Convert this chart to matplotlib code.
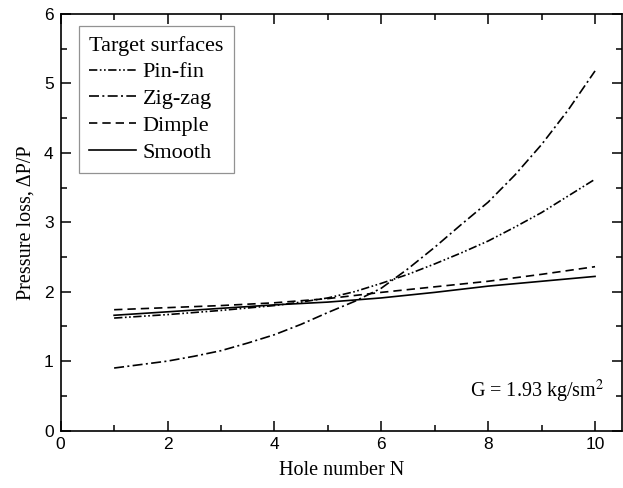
import matplotlib.pyplot as plt
from matplotlib.ticker import MultipleLocator

# hole number
n = [1, 2, 3, 4, 5, 6, 7, 8, 9, 10]
n_half = [1, 1.5, 2, 2.5, 3, 3.5, 4, 4.5, 5, 5.5, 6, 6.5, 7, 7.5, 8, 8.5, 9, 9.5, 10]

# pressure loss dP/P for each target surface (curved ones read at half steps)
pin_fin = [1.62, 1.645, 1.67, 1.70, 1.73, 1.765, 1.80, 1.85, 1.91, 2.00,
           2.12, 2.25, 2.40, 2.56, 2.73, 2.93, 3.14, 3.38, 3.62]
zig_zag = [0.90, 0.95, 1.00, 1.07, 1.15, 1.26, 1.38, 1.53, 1.70, 1.86,
           2.05, 2.33, 2.64, 2.97, 3.29, 3.68, 4.12, 4.62, 5.18]
dimple = [1.74, 1.77, 1.80, 1.84, 1.90, 1.99, 2.07, 2.15, 2.25, 2.36]
smooth = [1.66, 1.71, 1.76, 1.81, 1.85, 1.91, 1.99, 2.08, 2.15, 2.22]

serif = 'Liberation Serif'
sans = 'Liberation Sans'

fig = plt.figure(figsize=(6.23, 4.88), dpi=100)
ax = fig.add_axes([0.0974, 0.1178, 0.9006, 0.8535])

lw = 1.2
ax.plot(n_half, pin_fin, color='black', lw=lw, dashes=(5, 1.5, 1, 1.5, 1, 1.5), label='Pin-fin')
ax.plot(n_half, zig_zag, color='black', lw=lw, dashes=(6, 2, 1.2, 2), label='Zig-zag')
ax.plot(n, dimple, color='black', lw=lw, dashes=(5, 3), label='Dimple')
ax.plot(n, smooth, color='black', lw=lw, label='Smooth')

ax.set_xlim(0, 10.5)
ax.set_ylim(0, 6)
ax.xaxis.set_major_locator(MultipleLocator(2))
ax.xaxis.set_minor_locator(MultipleLocator(1))
ax.yaxis.set_major_locator(MultipleLocator(1))
ax.yaxis.set_minor_locator(MultipleLocator(0.5))
ax.tick_params(which='both', direction='in', top=True, right=True, width=1.1,
               labelsize=12.5, pad=5)
ax.tick_params(which='major', length=7)
ax.tick_params(which='minor', length=4)
for lbl in ax.get_xticklabels() + ax.get_yticklabels():
    lbl.set_fontfamily(sans)
for s in ax.spines.values():
    s.set_linewidth(1.2)

ax.set_xlabel('Hole number N', fontfamily=serif, fontsize=14.5, labelpad=6)
ax.set_ylabel('Pressure loss, \u0394P/P', fontfamily=serif, fontsize=14.5, labelpad=6)

leg = ax.legend(title='Target surfaces', loc='upper left', bbox_to_anchor=(0.033, 0.972),
                prop={'family': serif, 'size': 16}, frameon=True, fancybox=False,
                edgecolor='#777777', handlelength=2.1, handletextpad=0.3,
                labelspacing=0.28, borderpad=0.45, borderaxespad=0)
leg.get_title().set_fontfamily(serif)
leg.get_title().set_fontsize(16)
leg.get_frame().set_linewidth(0.9)
leg._legend_box.align = 'left'

ax.text(10.17, 0.48, 'G = 1.93 kg/sm$^2$', ha='right', va='baseline',
        fontfamily=serif, fontsize=14.5, math_fontfamily='stix')

fig.savefig('out.png', dpi=100)
